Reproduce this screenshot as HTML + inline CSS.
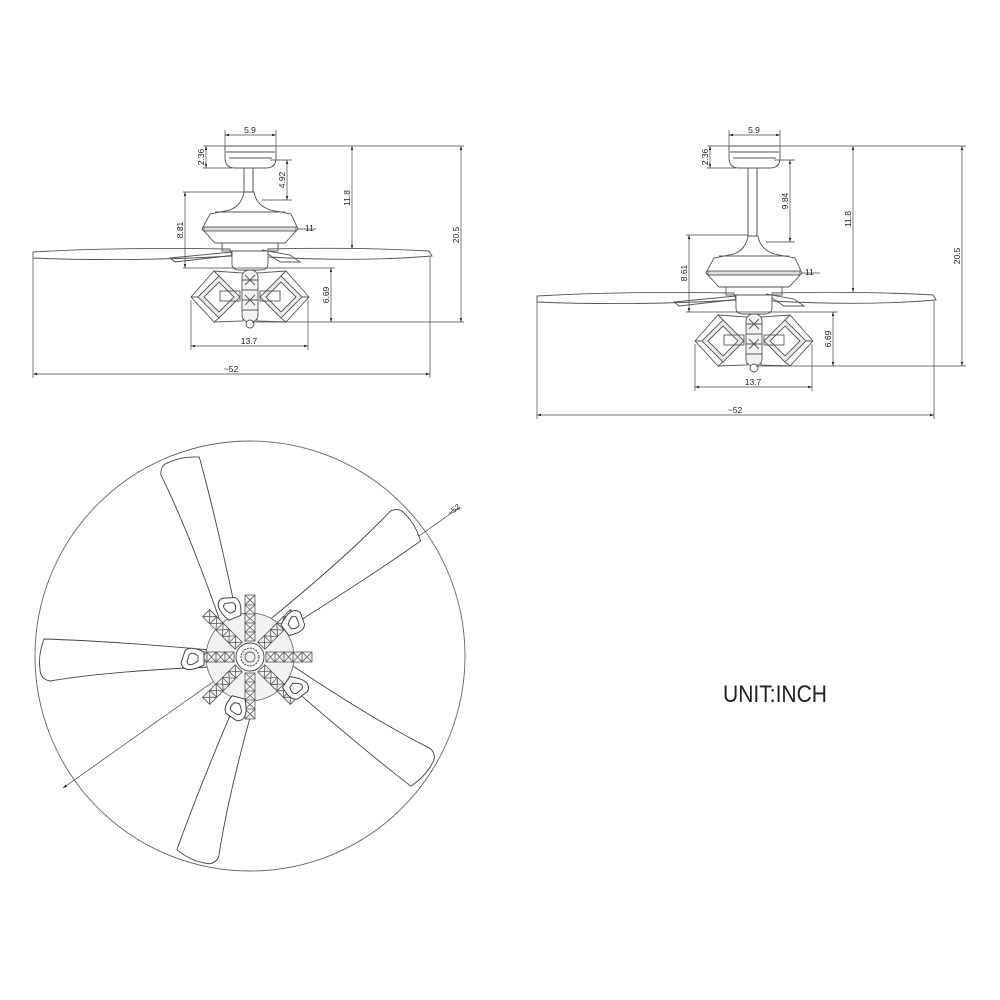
<!DOCTYPE html>
<html><head><meta charset="utf-8"><style>
html,body{margin:0;padding:0;background:#fff}
svg{display:block}
text{font-family:"Liberation Sans",Arial,sans-serif;fill:#222}
</style></head><body>
<svg width="1000" height="1000" viewBox="0 0 1000 1000" xmlns="http://www.w3.org/2000/svg">
<defs>
<marker id="a" viewBox="0 0 10 10" refX="10" refY="5" markerWidth="6" markerHeight="6" orient="auto-start-reverse"><path d="M0,2 L10,5 L0,8 Z" fill="#222"/></marker>
<g id="canopy" fill="none" stroke="#555" stroke-width="0.9">
<path d="M225,146 L276,146 L276,158 Q276,168 266,168 L235,168 Q225,168 225,158 Z"/>
<line x1="226" y1="152" x2="275" y2="152"/>
<path d="M229,158 L272,158"/>
</g>
<g id="motor" fill="none" stroke="#555" stroke-width="0.9">
<path d="M244,192 L254,192 Q256,205 270,210 L291,214 L298,229 L285,243 L215,243 L202,229 L210,214 L230,210 Q242,205 244,192 Z" fill="#fff"/>
<line x1="215" y1="212" x2="285" y2="212"/>
<rect x="204" y="227" width="92" height="4" fill="#ddd"/>
<path d="M33,252 Q120,247 230,249 L232,256 Q130,262 33,258 Z" fill="#fff"/>
<path d="M268,249 Q360,247 429,251 L432,256 Q360,262 268,257 Z" fill="#fff"/>
<path d="M170,258 L232,252 L236,255 L175,262 Z"/>
<path d="M262,250 L280,262 L300,262 L290,255 Z"/>
<rect x="222" y="243" width="56" height="8"/>
<path d="M232,251 L268,251 L268,264 Q268,270 260,270 L240,270 Q232,270 232,264 Z" fill="#fff"/>
<g id="diamL">
<path d="M191,297 L214,271 L243,273 L243,321 L214,322 Z" fill="#fff"/>
<path d="M198,297 L219,276 L240,297 L219,318 Z" fill="#eee"/>
<path d="M204,297 L219,282 L234,297 L219,312 Z" fill="#fff"/>
<path d="M191,297 L198,297 M214,271 L219,276 M214,322 L219,318"/>
<rect x="220" y="291" width="20" height="10"/>
</g>
<g transform="translate(500,0) scale(-1,1)"><use href="#diamL"/></g>
<rect x="242" y="270" width="16" height="52" rx="7" fill="#f3f3f3"/>
<path d="M242,280 L258,280 M242,290 L258,290 M242,300 L258,300 M242,310 L258,310 M245,275 L255,285 M255,275 L245,285 M245,295 L255,305 M255,295 L245,305"/>
<circle cx="250" cy="324" r="4" fill="#fff"/>
</g>
<g id="hubshade" fill="#fff" stroke="#444" stroke-width="1">
<path d="M0,-6 Q20,-16 23,-4 L19,8 Q14,14 0,7 Z"/>
<path d="M6,-2 Q15,-9 17,-3 L15,4 Q12,8 6,3 Z" fill="none"/>
</g>
<g id="arm" fill="#f4f4f4" stroke="#555" stroke-width="0.8">
<rect x="16" y="-5" width="46" height="10"/>
<path d="M16,-5 L25,5 M25,-5 L16,5 M25,-5 L34,5 M34,-5 L25,5 M34,-5 L43,5 M43,-5 L34,5 M43,-5 L52,5 M52,-5 L43,5 M52,-5 L62,5 M62,-5 L52,5 M25,-5 V5 M34,-5 V5 M43,-5 V5 M52,-5 V5" fill="none"/>
</g>
<path id="blade" d="M40,-8 Q140,-12 200,-22 Q210,-20 210,-10 Q212,4 206,20 Q140,18 40,9 Z"/>
</defs>

<line x1="244" y1="168" x2="244" y2="192" stroke="#555"/><line x1="253" y1="168" x2="253" y2="192" stroke="#555"/>
<use href="#canopy"/>
<use href="#motor"/>
<g stroke="#444" stroke-width="0.7" fill="none">
<line x1="225" y1="130" x2="225" y2="146"/><line x1="276" y1="130" x2="276" y2="146"/>
<line x1="225" y1="135" x2="276" y2="135" marker-start="url(#a)" marker-end="url(#a)"/>
<line x1="276" y1="146" x2="464" y2="146"/>
<line x1="203" y1="146" x2="225" y2="146"/><line x1="203" y1="168" x2="232" y2="168"/>
<line x1="206" y1="146" x2="206" y2="168" marker-start="url(#a)" marker-end="url(#a)"/>
<line x1="270" y1="160" x2="292" y2="160"/><line x1="262" y1="200" x2="292" y2="200"/>
<line x1="287" y1="160" x2="287" y2="200" marker-start="url(#a)" marker-end="url(#a)"/>
<line x1="352" y1="146" x2="352" y2="249" marker-start="url(#a)" marker-end="url(#a)"/>
<line x1="461" y1="146" x2="461" y2="322" marker-start="url(#a)" marker-end="url(#a)"/>
<line x1="183" y1="192" x2="244" y2="192"/><line x1="183" y1="268" x2="335" y2="268"/>
<line x1="185" y1="192" x2="185" y2="268" marker-start="url(#a)" marker-end="url(#a)"/>
<line x1="331" y1="268" x2="331" y2="322" marker-start="url(#a)" marker-end="url(#a)"/>
<line x1="252" y1="322" x2="464" y2="322"/>
<line x1="191" y1="300" x2="191" y2="350"/><line x1="308" y1="300" x2="308" y2="350"/>
<line x1="191" y1="346" x2="308" y2="346" marker-start="url(#a)" marker-end="url(#a)"/>
<line x1="33" y1="258" x2="33" y2="378"/><line x1="430" y1="257" x2="430" y2="378"/>
<line x1="33" y1="374" x2="430" y2="374" marker-start="url(#a)" marker-end="url(#a)"/>
<line x1="298" y1="229" x2="316" y2="229"/>
</g>
<g font-size="8.5">
<text x="250" y="133" text-anchor="middle">5.9</text>
<text transform="translate(204,157) rotate(-90)" text-anchor="middle">2.36</text>
<text transform="translate(285,180) rotate(-90)" text-anchor="middle">4.92</text>
<text transform="translate(350,198) rotate(-90)" text-anchor="middle">11.8</text>
<text transform="translate(459,235) rotate(-90)" text-anchor="middle">20.5</text>
<text transform="translate(183,230) rotate(-90)" text-anchor="middle">8.81</text>
<text transform="translate(329,295) rotate(-90)" text-anchor="middle">6.69</text>
<text x="305" y="231">11</text>
<text x="249" y="344" text-anchor="middle">13.7</text>
<text x="231" y="372" text-anchor="middle">~52</text>
</g>

<line x1="748" y1="168" x2="748" y2="236" stroke="#555"/><line x1="757" y1="168" x2="757" y2="236" stroke="#555"/>
<use href="#canopy" transform="translate(504,0)"/>
<use href="#motor" transform="translate(504,44)"/>
<g stroke="#444" stroke-width="0.7" fill="none">
<line x1="729" y1="130" x2="729" y2="146"/><line x1="780" y1="130" x2="780" y2="146"/>
<line x1="729" y1="135" x2="780" y2="135" marker-start="url(#a)" marker-end="url(#a)"/>
<line x1="780" y1="146" x2="966" y2="146"/>
<line x1="707" y1="146" x2="729" y2="146"/><line x1="707" y1="168" x2="736" y2="168"/>
<line x1="710" y1="146" x2="710" y2="168" marker-start="url(#a)" marker-end="url(#a)"/>
<line x1="774" y1="160" x2="795" y2="160"/><line x1="766" y1="242" x2="795" y2="242"/>
<line x1="790" y1="160" x2="790" y2="242" marker-start="url(#a)" marker-end="url(#a)"/>
<line x1="853" y1="146" x2="853" y2="292" marker-start="url(#a)" marker-end="url(#a)"/>
<line x1="962" y1="146" x2="962" y2="366" marker-start="url(#a)" marker-end="url(#a)"/>
<line x1="686" y1="235" x2="748" y2="235"/><line x1="686" y1="312" x2="838" y2="312"/>
<line x1="689" y1="235" x2="689" y2="312" marker-start="url(#a)" marker-end="url(#a)"/>
<line x1="833" y1="312" x2="833" y2="366" marker-start="url(#a)" marker-end="url(#a)"/>
<line x1="756" y1="366" x2="966" y2="366"/>
<line x1="695" y1="344" x2="695" y2="391"/><line x1="812" y1="344" x2="812" y2="391"/>
<line x1="695" y1="387" x2="812" y2="387" marker-start="url(#a)" marker-end="url(#a)"/>
<line x1="537" y1="302" x2="537" y2="419"/><line x1="934" y1="301" x2="934" y2="419"/>
<line x1="537" y1="415" x2="934" y2="415" marker-start="url(#a)" marker-end="url(#a)"/>
<line x1="802" y1="273" x2="820" y2="273"/>
</g>
<g font-size="8.5">
<text x="754" y="133" text-anchor="middle">5.9</text>
<text transform="translate(708,157) rotate(-90)" text-anchor="middle">2.36</text>
<text transform="translate(788,201) rotate(-90)" text-anchor="middle">9.84</text>
<text transform="translate(851,219) rotate(-90)" text-anchor="middle">11.8</text>
<text transform="translate(960,256) rotate(-90)" text-anchor="middle">20.5</text>
<text transform="translate(687,273) rotate(-90)" text-anchor="middle">8.61</text>
<text transform="translate(831,339) rotate(-90)" text-anchor="middle">6.69</text>
<text x="805" y="275">11</text>
<text x="753" y="385" text-anchor="middle">13.7</text>
<text x="735" y="413" text-anchor="middle">~52</text>
</g>

<circle cx="250" cy="656" r="215" fill="none" stroke="#666" stroke-width="0.9"/>
<line x1="63" y1="788" x2="460" y2="507" stroke="#444" stroke-width="0.7" marker-start="url(#a)"/>
<text transform="translate(450,516) rotate(-37)" font-size="8">~52</text>
<g transform="translate(250,657)" fill="#fff" stroke="#444" stroke-width="0.9">
<use href="#blade" transform="rotate(180) translate(0,-2)"/>
<use href="#blade" transform="rotate(-107) translate(0,-10)"/>
<use href="#blade" transform="rotate(-37) translate(0,-10)"/>
<use href="#blade" transform="rotate(36) translate(0,-10)"/>
<use href="#blade" transform="rotate(108) translate(0,-10)"/>
<circle r="44" fill="#f2f2f2" stroke="#777"/>
<use href="#arm"/><use href="#arm" transform="rotate(45)"/><use href="#arm" transform="rotate(90)"/><use href="#arm" transform="rotate(135)"/>
<use href="#arm" transform="rotate(180)"/><use href="#arm" transform="rotate(225)"/><use href="#arm" transform="rotate(270)"/><use href="#arm" transform="rotate(315)"/>
<use href="#hubshade" transform="rotate(180) translate(46,-2)"/>
<use href="#hubshade" transform="rotate(-112) translate(42,0)"/>
<use href="#hubshade" transform="rotate(-38) translate(44,0)"/>
<use href="#hubshade" transform="rotate(34) translate(44,0)"/>
<use href="#hubshade" transform="rotate(105) translate(42,0)"/>
<circle r="14" fill="#fff" stroke="#444"/>
<circle r="9" fill="#eee" stroke="#333" stroke-dasharray="2 1"/>
<circle r="5" fill="none" stroke="#666"/>
</g>

<text x="723" y="702" font-size="24" textLength="104" lengthAdjust="spacingAndGlyphs">UNIT:INCH</text>
</svg>
</body></html>
